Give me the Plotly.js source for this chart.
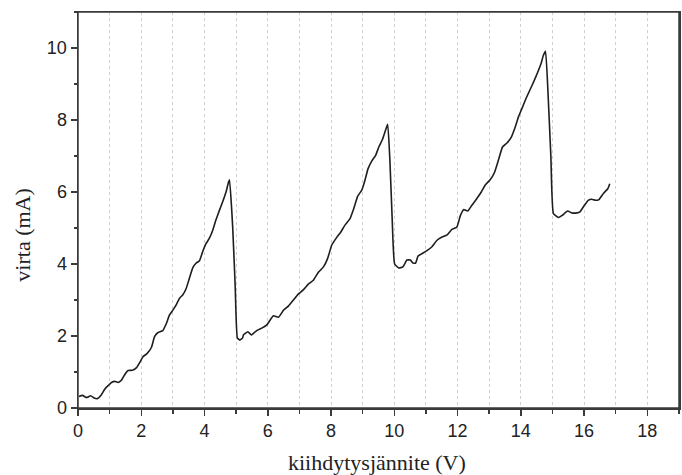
<!DOCTYPE html>
<html>
<head>
<meta charset="utf-8">
<script src="https://cdn.plot.ly/plotly-3.0.1.min.js"></script>
<style>html,body{margin:0;padding:0;background:#fff;}#chart{width:682px;height:475px;}</style>
</head>
<body>
<div id="chart"></div>
<script>
// kiihdytysjännite (V)
const voltage = [
  0.03, 0.14, 0.27, 0.40, 0.51, 0.61, 0.74, 0.85, 0.95, 1.06, 1.16, 1.27, 1.37, 1.48, 1.58, 1.72, 1.85, 1.95,
  2.06, 2.18, 2.32, 2.42, 2.52, 2.68, 2.79, 2.89, 3.00, 3.10, 3.21, 3.31, 3.42, 3.52, 3.63, 3.73, 3.84, 3.94,
  4.05, 4.15, 4.26, 4.36, 4.47, 4.57, 4.68, 4.76, 4.79, 4.89, 4.97, 5.04, 5.12, 5.20,
  5.23, 5.37, 5.48, 5.58, 5.69, 5.81, 5.97, 6.08, 6.18, 6.34, 6.50, 6.65, 6.81, 6.97, 7.12, 7.28, 7.44, 7.60,
  7.76, 7.89, 8.02, 8.18, 8.31, 8.44, 8.60, 8.70, 8.84, 8.97, 9.07, 9.17, 9.30, 9.41, 9.51, 9.62, 9.72, 9.79,
  9.86, 9.93, 10.01, 10.14, 10.27, 10.40, 10.51, 10.58, 10.67, 10.75, 10.88, 11.03, 11.19, 11.35, 11.51, 11.66,
  11.82, 11.98, 12.09, 12.19, 12.32, 12.45, 12.61, 12.75, 12.87, 13.03, 13.17, 13.29, 13.42, 13.56, 13.69,
  13.82, 13.93, 14.03, 14.16, 14.29, 14.40, 14.53, 14.64, 14.71, 14.78, 14.86, 14.95, 15.03, 15.19, 15.31,
  15.48, 15.61, 15.77, 15.87, 16.01, 16.13, 16.24, 16.36, 16.47, 16.61, 16.75, 16.81
];
// virta (mA)
const current = [
  0.32, 0.35, 0.29, 0.34, 0.28, 0.26, 0.37, 0.53, 0.62, 0.71, 0.74, 0.71, 0.77, 0.93, 1.04, 1.05, 1.12, 1.26,
  1.43, 1.51, 1.68, 1.98, 2.09, 2.15, 2.34, 2.58, 2.72, 2.86, 3.05, 3.14, 3.32, 3.60, 3.90, 4.02, 4.09, 4.34,
  4.57, 4.71, 4.94, 5.22, 5.49, 5.72, 6.00, 6.28, 6.34, 5.03, 3.37, 1.94, 1.89, 1.94,
  2.03, 2.12, 2.03, 2.10, 2.17, 2.22, 2.31, 2.45, 2.56, 2.52, 2.72, 2.83, 3.00, 3.17, 3.28, 3.44, 3.55, 3.77,
  3.92, 4.15, 4.52, 4.74, 4.89, 5.08, 5.26, 5.49, 5.88, 6.05, 6.32, 6.65, 6.88, 7.02, 7.25, 7.45, 7.71, 7.88,
  6.88, 5.31, 4.00, 3.89, 3.92, 4.11, 4.11, 4.03, 4.02, 4.22, 4.29, 4.37, 4.48, 4.66, 4.75, 4.80,
  4.96, 5.03, 5.35, 5.51, 5.47, 5.63, 5.82, 6.00, 6.19, 6.34, 6.55, 6.88, 7.25, 7.36, 7.51,
  7.80, 8.10, 8.31, 8.59, 8.84, 9.05, 9.32, 9.57, 9.79, 9.91, 8.73, 6.97, 5.40, 5.29, 5.35,
  5.47, 5.42, 5.42, 5.45, 5.63, 5.77, 5.80, 5.77, 5.79, 5.96, 6.09, 6.23
];
const xTickVals = [0, 2, 4, 6, 8, 10, 12, 14, 16, 18];
const yTickVals = [0, 2, 4, 6, 8, 10];
const xTitle = 'kiihdytysjännite (V)';
const yTitle = 'virta (mA)';

const axisColor = '#3a3a3a';
const tickFont = {family: 'Liberation Sans, Arial, sans-serif', size: 18, color: '#222'};
const titleFont = {family: 'Liberation Serif, Times New Roman, serif', size: 22, color: '#222'};

const trace = {
  x: voltage, y: current, type: 'scatter', mode: 'lines',
  line: {color: '#1e1e1e', width: 1.6, shape: 'spline', smoothing: 0.4},
  hoverinfo: 'skip', showlegend: false
};

const layout = {
  width: 682, height: 475,
  margin: {l: 78, r: 3, t: 12, b: 67},
  paper_bgcolor: '#fff', plot_bgcolor: '#fff',
  showlegend: false,
  xaxis: {
    range: [0, 19], tickvals: xTickVals, ticktext: xTickVals.map(String),
    ticks: 'outside', ticklen: 6, tickwidth: 1.5, tickcolor: axisColor,
    showline: true, mirror: true, linecolor: axisColor, linewidth: 1.5,
    showgrid: true, gridcolor: '#cfcfcf', griddash: 'dot', gridwidth: 1,
    zeroline: false, tickfont: tickFont,
    minor: {dtick: 1, tick0: 0, ticks: 'outside', ticklen: 4, tickwidth: 1.5, tickcolor: axisColor,
            showgrid: true, gridcolor: '#cfcfcf', griddash: 'dot', gridwidth: 1}
  },
  yaxis: {
    range: [0, 11], tickvals: yTickVals, ticktext: yTickVals.map(String),
    ticks: 'outside', ticklen: 6, tickwidth: 1.5, tickcolor: axisColor,
    showline: true, mirror: true, linecolor: axisColor, linewidth: 1.5,
    showgrid: false, zeroline: false, tickfont: tickFont,
    minor: {dtick: 1, tick0: 0, ticks: 'outside', ticklen: 3, tickwidth: 1.5, tickcolor: axisColor, showgrid: false}
  },
  shapes: [
    {type: 'rect', xref: 'paper', yref: 'paper', x0: 0, x1: 1, y0: 0, y1: 1,
     line: {color: axisColor, width: 1.5}, fillcolor: 'rgba(0,0,0,0)', layer: 'above'}
  ],
  annotations: [
    {text: xTitle, xref: 'paper', yref: 'paper', x: 0.498, y: -0.138, xanchor: 'center', yanchor: 'middle',
     showarrow: false, font: titleFont},
    {text: yTitle, xref: 'paper', yref: 'paper', x: -0.092, y: 0.437, xanchor: 'center', yanchor: 'middle',
     textangle: -90, showarrow: false, font: titleFont}
  ]
};

Plotly.newPlot('chart', [trace], layout, {staticPlot: true, displayModeBar: false});
</script>
</body>
</html>
